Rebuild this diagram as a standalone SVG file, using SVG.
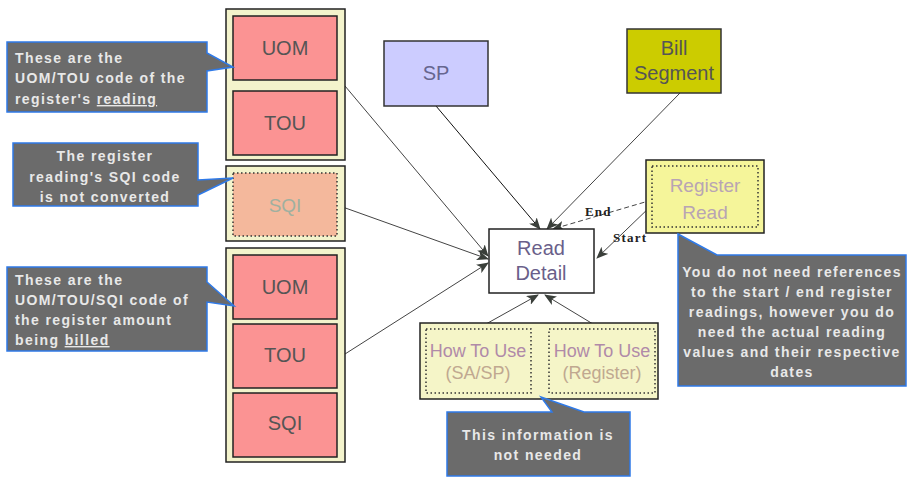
<svg xmlns="http://www.w3.org/2000/svg" width="907" height="477" viewBox="0 0 907 477">
<style>
.cont{fill:#f3f3cc;stroke:#222;stroke-width:1.5}
.red{fill:#fb9393;stroke:#222;stroke-width:1.5}
.lbl{font-family:"Liberation Sans",Arial,sans-serif;font-size:20px;fill:#555;text-anchor:middle}
.ghost{font-family:"Liberation Sans",Arial,sans-serif;font-size:19px;text-anchor:middle}
.call{fill:#6b6b6b;stroke:#2f7ae8;stroke-width:1.5}
.ct{font-family:"Liberation Sans",Arial,sans-serif;font-size:14px;font-weight:bold;fill:#e8e8e8;letter-spacing:1.4px}
.conn{stroke:#444;stroke-width:1;fill:none}
.rl{font-family:"Liberation Serif","Times New Roman",serif;font-size:13px;font-weight:bold;fill:#222;letter-spacing:1.2px}
.dot{fill:none;stroke:#333;stroke-width:1.5;stroke-dasharray:1.5,2.5}
</style>
<defs>
<marker id="ah" markerWidth="12" markerHeight="10" refX="11" refY="5" orient="auto" markerUnits="userSpaceOnUse">
<path d="M0,0 L12,5 L0,10 L3,5 z" fill="#3a3f3a"/>
</marker>
</defs>

<g id="connectors">
<line class="conn" x1="345" y1="86" x2="488" y2="256" marker-end="url(#ah)"/>
<line class="conn" x1="337" y1="205" x2="488" y2="259" marker-end="url(#ah)"/>
<line class="conn" x1="345" y1="354" x2="488" y2="263" marker-end="url(#ah)"/>
<line class="conn" x1="436" y1="106" x2="540" y2="229" stroke-width="1.8" style="stroke:#111" marker-end="url(#ah)"/>
<line class="conn" x1="680" y1="93" x2="547" y2="229" marker-end="url(#ah)"/>
<line class="conn" x1="652" y1="200" x2="553" y2="229" stroke-dasharray="5,3" marker-end="url(#ah)"/>
<line class="conn" x1="653" y1="204" x2="597" y2="258" marker-end="url(#ah)"/>
<line class="conn" x1="486" y1="324" x2="538" y2="295" marker-end="url(#ah)"/>
<line class="conn" x1="593" y1="324" x2="545" y2="295" marker-end="url(#ah)"/>
<text class="rl" x="585" y="216">End</text>
<text class="rl" x="613" y="242">Start</text>
</g>

<g id="reading-group">
<rect class="cont" x="226" y="9" width="119" height="151"/>
<g id="uom1"><rect class="red" x="233" y="16" width="104" height="64"/><text class="lbl" x="285" y="55">UOM</text></g>
<g id="tou1"><rect class="red" x="233" y="91" width="104" height="64"/><text class="lbl" x="285" y="130">TOU</text></g>
</g>

<g id="sqi-ghost">
<rect class="cont" x="226" y="166" width="119" height="75"/>
<rect x="233" y="173" width="104" height="63" fill="#f4b89c"/>
<rect class="dot" x="233" y="173" width="104" height="63"/>
<text class="ghost" x="285" y="212" fill="#9fb0a0">SQI</text>
</g>

<g id="billed-group">
<rect class="cont" x="226" y="248" width="119" height="214"/>
<g id="uom2"><rect class="red" x="233" y="255" width="104" height="64"/><text class="lbl" x="285" y="294">UOM</text></g>
<g id="tou2"><rect class="red" x="233" y="324" width="104" height="64"/><text class="lbl" x="285" y="362">TOU</text></g>
<g id="sqi2"><rect class="red" x="233" y="393" width="104" height="64"/><text class="lbl" x="285" y="430">SQI</text></g>
</g>

<g id="sp">
<rect x="384" y="41" width="104" height="65" fill="#ccccff" stroke="#333" stroke-width="1.5"/>
<text class="lbl" x="436" y="80" style="fill:#66668f">SP</text>
</g>

<g id="bill-segment">
<rect x="627" y="29" width="94" height="64" fill="#cccc00" stroke="#333" stroke-width="1.5"/>
<text class="lbl" x="674" y="55">Bill</text>
<text class="lbl" x="674" y="80">Segment</text>
</g>

<g id="read-detail">
<rect x="489" y="229" width="105" height="64" fill="#fff" stroke="#222" stroke-width="1.5"/>
<text class="lbl" x="541" y="255" style="fill:#6a5f8a">Read</text>
<text class="lbl" x="541" y="280" style="fill:#6a5f8a">Detail</text>
</g>

<g id="register-read">
<rect x="646" y="160" width="118" height="73" fill="#f5f59a" stroke="#222" stroke-width="1.5"/>
<rect class="dot" x="652" y="166" width="106" height="61"/>
<text class="ghost" x="705" y="192" fill="#b8a4b4">Register</text>
<text class="ghost" x="705" y="219" fill="#b8a4b4">Read</text>
</g>

<g id="how-to-use">
<rect x="420" y="323" width="238" height="76" fill="#f5f5c8" stroke="#222" stroke-width="1.5"/>
<rect class="dot" x="426" y="329" width="105" height="64"/>
<rect class="dot" x="549" y="329" width="106" height="64"/>
<text class="ghost" x="478" y="357" fill="#b08aa8" style="font-size:18px">How To Use</text>
<text class="ghost" x="478" y="379" fill="#c0a890" style="font-size:18px">(SA/SP)</text>
<text class="ghost" x="602" y="357" fill="#b08aa8" style="font-size:18px">How To Use</text>
<text class="ghost" x="602" y="379" fill="#c0a890" style="font-size:18px">(Register)</text>
</g>

<g id="callout-reading">
<path class="call" d="M7,42 H207 V53 L233,67 L207,71 V112 H7 Z"/>
<text class="ct" x="15" y="63">These are the</text>
<text class="ct" x="15" y="83">UOM/TOU code of the</text>
<text class="ct" x="15" y="104">register's <tspan text-decoration="underline">reading</tspan></text>
</g>

<g id="callout-sqi">
<path class="call" d="M13,143 H198 V180 L233,178 L198,195 V206 H13 Z"/>
<text class="ct" x="105" y="161" text-anchor="middle">The register</text>
<text class="ct" x="105" y="182" text-anchor="middle">reading's SQI code</text>
<text class="ct" x="105" y="202" text-anchor="middle">is not converted</text>
</g>

<g id="callout-billed">
<path class="call" d="M7,267 H207 V282 L234,306 L207,302 V351 H7 Z"/>
<text class="ct" x="15" y="285">These are the</text>
<text class="ct" x="15" y="305">UOM/TOU/SQI code of</text>
<text class="ct" x="15" y="325">the register amount</text>
<text class="ct" x="15" y="345">being <tspan text-decoration="underline">billed</tspan></text>
</g>

<g id="callout-register">
<path class="call" d="M678,234 L717,255 H906 V386 H678 Z"/>
<text class="ct" x="792" y="277" text-anchor="middle">You do not need references</text>
<text class="ct" x="792" y="297" text-anchor="middle">to the start / end register</text>
<text class="ct" x="792" y="317" text-anchor="middle">readings, however you do</text>
<text class="ct" x="792" y="337" text-anchor="middle">need the actual reading</text>
<text class="ct" x="792" y="357" text-anchor="middle">values and their respective</text>
<text class="ct" x="792" y="377" text-anchor="middle">dates</text>
</g>

<g id="callout-howto">
<path class="call" d="M447,412 H552 L541,397 L584,412 H630 V476 H447 Z"/>
<text class="ct" x="538" y="440" text-anchor="middle">This information is</text>
<text class="ct" x="538" y="460" text-anchor="middle">not needed</text>
</g>
</svg>
